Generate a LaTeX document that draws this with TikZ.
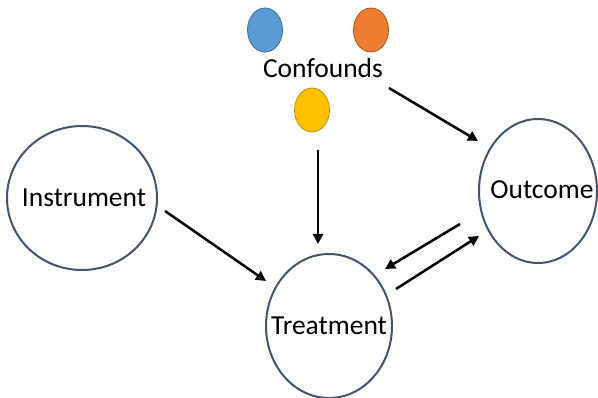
\documentclass[tikz,border=0pt]{standalone}
\usepackage{fontspec}
\setmainfont{Carlito}
\usetikzlibrary{arrows.meta,shapes.geometric}
\definecolor{rim}{HTML}{44546A}
\definecolor{cblue}{HTML}{5B9BD5}
\definecolor{corange}{HTML}{ED7D31}
\definecolor{cyellow}{HTML}{FFC000}
\tikzset{
  bigrim/.style={draw=rim, line width=2pt, fill=white},
  dot/.style={shape=ellipse, inner sep=0pt, minimum width=35pt, minimum height=44pt, line width=0.8pt},
  lbl/.style={font=\fontsize{27.5}{32}\selectfont, text=black},
  conn/.style={line width=2.5pt, -{Triangle[length=10pt,width=10pt]}},
}
\begin{document}
\begin{tikzpicture}[x=1pt,y=-1pt]
\useasboundingbox (0,0) rectangle (598,398);
\fill[white] (0,0) rectangle (598,398);
% big ellipses
\draw[bigrim] (82,198) ellipse [x radius=75, y radius=72];
\draw[bigrim] (329,326) ellipse [x radius=63, y radius=72];
\draw[bigrim] (538,191) ellipse [x radius=59, y radius=72];
\node[lbl] (instrument) at (84,198) {Instrument};
\node[lbl] (treatment) at (329,326) {Treatment};
\node[lbl] (outcome) at (542,190) {Outcome};
% confounders
\node[dot, draw=cblue!70!black, fill=cblue] (blue) at (265,30) {};
\node[dot, draw=corange!70!black, fill=corange] (orange) at (371,30) {};
\node[dot, draw=cyellow!75!black, fill=cyellow] (yellow) at (312,110) {};
\node[lbl] (confounds) at (323,68) {Confounds};
% arrow end points
\coordinate (a1s) at (389,88);  \coordinate (a1e) at (478,141);
\coordinate (a2s) at (318,150); \coordinate (a2e) at (318,244);
\coordinate (a3s) at (165,211); \coordinate (a3e) at (266,281);
\coordinate (a4s) at (460,224); \coordinate (a4e) at (385,269);
\coordinate (a5s) at (396,289); \coordinate (a5e) at (479,236);
\draw[conn] (a1s) -- (a1e);
\draw[conn] (a2s) -- (a2e);
\draw[conn] (a3s) -- (a3e);
\draw[conn] (a4s) -- (a4e);
\draw[conn] (a5s) -- (a5e);
\end{tikzpicture}
\end{document}
